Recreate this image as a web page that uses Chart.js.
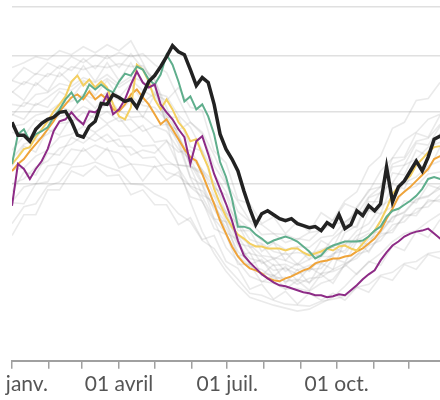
<!DOCTYPE html>
<html>
<head>
<meta charset="utf-8">
<script src="https://cdn.jsdelivr.net/npm/chart.js@4"></script>
<style>
  html, body { margin: 0; padding: 0; background: #fff; overflow: hidden; }
  #wrap { position: relative; width: 440px; height: 400px; overflow: hidden; }
  #chart { position: absolute; left: -40px; top: 0; }
</style>
</head>
<body>
<div id="wrap"><canvas id="chart" width="490" height="400"></canvas></div>
<script>
// day of year, every 5 days
var days = [0,5,10,15,20,25,30,35,40,45,50,55,60,65,70,75,80,85,90,95,100,105,110,115,120,125,130,135,140,145,
            150,155,160,165,170,175,180,185,190,195,200,205,210,215,220,225,230,235,240,245,250,255,260,265,270,275,
            280,285,290,295,300,305,310,315,320,325,330,335,340,345,350,355,360,365];
// day of year for the grey past years, every 10 days
var grayDays = [0,10,20,30,40,50,60,70,80,90,100,110,120,130,140,150,160,170,180,190,200,210,220,230,240,250,
                260,270,280,290,300,310,320,330,340,350,360];

var monthStarts = [0,31,59,90,120,151,181,212,243,273,304,334];
var monthLabels = { 0: '01 janv.', 90: '01 avril', 181: '01 juil.', 273: '01 oct.' };
var gridValues = [178, 251, 307, 356];

var blackYear = [240,227,227,221,233,239,243,245,250,251,241,227,225,236,241,259,258,268,265,261,263,255,268,281,287,
                 296,306,317,311,308,293,277,285,280,258,228,213,203,191,171,153,137,148,151,147,143,141,143,138,136,
                 134,135,131,139,135,147,133,137,151,146,156,151,158,195,160,175,181,191,201,191,205,223,226,228];
var purpleYear = [156,198,193,183,193,201,213,231,241,243,250,243,238,251,250,256,268,248,253,263,278,291,280,275,278,
                  258,250,243,233,225,198,221,226,208,188,173,158,141,121,106,99,93,87,83,79,76,75,73,71,69,
                  68,66,66,64,65,67,66,71,76,82,87,91,101,109,116,120,125,128,130,131,133,128,123,123];
var greenYear = [198,228,233,221,228,231,235,245,253,263,270,260,266,278,273,278,273,270,281,289,287,296,293,283,278,
                 288,308,298,281,261,266,253,258,246,228,200,185,163,135,135,133,127,123,118,121,123,125,123,120,115,
                 110,103,106,113,116,118,120,120,120,121,125,131,135,145,151,153,157,161,166,173,183,185,183,185];
var yellowYear = [198,205,213,215,225,233,241,251,258,266,281,287,277,283,275,281,275,258,246,243,255,298,293,281,263,
                  253,263,253,240,233,221,223,208,195,173,158,145,135,127,123,118,115,115,113,113,113,111,113,113,109,
                  106,108,110,113,111,115,116,113,111,118,125,131,141,153,168,175,181,186,197,203,210,215,216,218];
var orangeYear = [191,198,203,211,218,225,233,241,251,258,265,268,263,271,263,268,263,253,251,258,268,273,265,258,248,
                  238,243,233,223,213,205,201,188,173,158,141,128,115,105,98,93,91,88,83,81,80,83,85,88,91,
                  93,98,100,101,103,103,105,106,110,113,118,123,131,143,153,165,170,175,181,187,193,203,206,208];

var gray1 = [282,295,288,300,294,306,300,308,304,310,306,309,298,290,264,240,228,196,178,150,140,127,128,119,123,121,132,142,161,170,195,206,234,240,262,264,280];
var gray2 = [258,256,268,270,279,276,285,280,288,278,286,281,270,266,247,235,212,188,170,143,133,121,119,112,115,114,124,126,140,147,165,175,198,203,221,224,238];
var gray3 = [236,238,247,250,259,261,268,263,270,262,266,257,255,242,225,198,178,152,134,110,98,88,86,80,82,79,88,90,95,107,111,125,132,145,149,160,162];
var gray4 = [212,226,224,240,246,248,256,250,258,252,245,246,236,231,213,203,180,165,141,125,108,105,96,97,91,96,98,108,111,126,131,148,155,171,176,188,190];
var gray5 = [192,194,206,212,225,228,236,230,238,226,227,216,217,202,194,175,165,143,128,106,95,92,83,84,77,83,84,92,98,103,116,121,137,140,153,155,167];
var gray6 = [160,175,178,196,198,213,211,217,212,209,198,197,195,198,197,196,190,176,158,140,122,118,110,107,109,107,112,116,117,121,128,130,145,149,162,165,176];
var gray7 = [138,155,158,176,180,195,196,200,195,191,178,177,168,162,148,140,121,113,95,82,68,66,61,57,56,55,60,62,65,74,77,86,89,98,100,108,110];
var gray8 = [247,260,257,265,274,272,282,276,284,275,283,272,265,241,218,184,160,141,114,100,85,80,78,72,73,70,78,82,97,106,122,129,144,150,163,166,173];
var gray9 = [203,218,222,228,239,240,250,244,251,241,243,231,236,238,232,240,230,207,180,160,141,137,128,127,122,129,131,138,139,150,151,170,179,197,203,215,220];
var gray10 = [295,300,306,303,312,308,316,310,318,312,322,300,275,240,195,160,130,108,90,76,64,60,56,53,50,52,58,64,75,88,99,108,120,128,131,140,148];
var gray11 = [270,281,277,289,286,296,293,297,295,299,296,297,282,255,226,205,192,167,150,126,117,106,104,101,96,102,108,123,133,155,170,191,204,222,230,243,248];
var gray12 = [178,183,195,201,214,218,227,221,228,216,215,204,205,190,186,176,171,155,139,116,103,100,91,93,87,92,93,107,117,131,138,155,164,179,185,196,201];
var gray13 = [248,243,259,255,271,264,280,267,282,265,279,260,269,245,245,215,211,174,167,131,131,110,119,101,114,102,121,114,137,134,160,160,189,187,212,206,229];
var gray14 = [196,216,210,233,227,246,237,249,239,245,230,237,220,222,197,195,167,160,129,122,97,102,85,95,80,94,87,103,99,120,117,140,140,161,159,177,173];
var gray15 = [282,278,289,286,297,292,304,294,307,295,309,294,283,247,228,195,188,158,148,118,115,98,103,90,98,90,105,105,129,136,164,169,195,197,219,217,236];
var gray16 = [159,158,178,180,200,197,214,202,214,194,198,181,196,182,190,165,161,133,127,97,97,79,86,72,81,71,87,78,97,87,100,96,116,111,130,124,142];
var gray17 = [230,226,242,240,256,251,266,254,268,251,262,245,268,262,275,255,252,211,199,162,158,138,145,128,140,130,149,141,158,153,172,175,204,205,229,225,247];
var gray18 = [126,147,147,172,172,191,186,196,186,187,167,172,157,157,137,144,122,126,100,93,72,77,62,70,57,68,61,68,61,74,69,85,81,97,92,107,103];
var gray19 = [271,262,280,271,290,279,297,281,300,282,300,279,278,236,223,185,177,143,140,105,109,86,97,78,92,78,98,92,121,121,151,148,178,173,200,191,215];
var gray20 = [170,190,187,209,207,225,219,229,220,223,207,212,209,221,210,212,192,180,149,138,114,117,102,109,97,109,105,115,108,122,109,128,129,147,146,162,160];

function pts(xs, ys) {
    return ys.map(function (v, i) { return { x: xs[i], y: v }; });
}

function line(data, color, width) {
    return { data: data, borderColor: color, borderWidth: width, pointRadius: 0, fill: false, tension: 0 };
}

var datasets = [
    line(pts(days, blackYear), '#222222', 3.5),
    line(pts(days, purpleYear), '#8d2b86', 2),
    line(pts(days, greenYear), '#5fae8c', 2),
    line(pts(days, yellowYear), '#f4cf60', 2),
    line(pts(days, orangeYear), '#efa43a', 2)
];
[gray1, gray2, gray3, gray4, gray5, gray6, gray7, gray8, gray9, gray10,
 gray11, gray12, gray13, gray14, gray15, gray16, gray17, gray18, gray19, gray20].forEach(function (g) {
    datasets.push(line(pts(grayDays, g), 'rgba(150,150,150,0.2)', 1.6));
});

new Chart(document.getElementById('chart').getContext('2d'), {
    type: 'line',
    data: { datasets: datasets },
    options: {
        responsive: false,
        animation: false,
        layout: { padding: { left: 52, right: 4, top: 7, bottom: 0 } },
        plugins: { legend: { display: false }, tooltip: { enabled: false } },
        scales: {
            x: {
                type: 'linear',
                min: 0,
                max: 365,
                afterBuildTicks: function (scale) {
                    scale.ticks = monthStarts.map(function (d) { return { value: d }; });
                },
                grid: { drawOnChartArea: false, drawTicks: true, tickLength: 8, color: '#a0a0a0', lineWidth: 1.5 },
                border: { display: true, color: '#a0a0a0', width: 2 },
                ticks: {
                    autoSkip: false,
                    maxRotation: 0,
                    padding: 3,
                    color: '#555',
                    font: { family: 'Lato', size: 21 },
                    callback: function (v) { return monthLabels[v] || ''; }
                }
            },
            y: {
                min: 0,
                max: 356,
                afterBuildTicks: function (scale) {
                    scale.ticks = gridValues.map(function (v) { return { value: v }; });
                },
                grid: { drawTicks: false, color: '#e0e0e0', lineWidth: 1.5 },
                border: { display: false },
                ticks: { display: false }
            }
        }
    }
});
</script>
</body>
</html>
